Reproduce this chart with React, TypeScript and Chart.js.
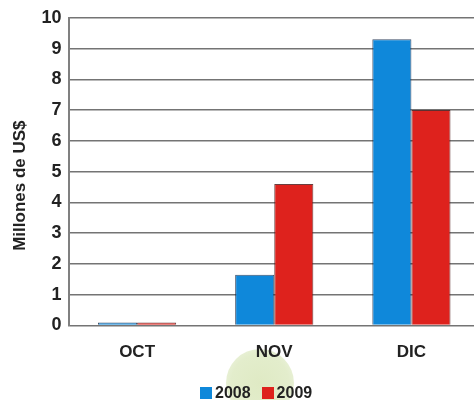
import React, { useEffect, useRef } from "react";
import { Chart, registerables } from "chart.js";

Chart.register(...registerables);

// Monthly values, millions of US$
const months = ["OCT", "NOV", "DIC"];
const series2008 = [0.1, 1.65, 9.3];
const series2009 = [0.1, 4.6, 7.0];
const yTicks = [0, 1, 2, 3, 4, 5, 6, 7, 8, 9, 10];
const seriesLabels = ["2008", "2009"];
const yTitle = "Millones de US$";

const BLUE = "#0f88da";
const RED = "#de221d";
const FONT = "'Liberation Sans', Arial, sans-serif";

// Vertical axis title, sitting a little below the middle of the plot
const yTitlePlugin = {
  id: "yTitle",
  afterDraw(chart: any) {
    const { ctx, chartArea } = chart;
    const cy = (chartArea.top + chartArea.bottom) / 2 + 14;
    ctx.save();
    ctx.translate(20, cy);
    ctx.rotate(-Math.PI / 2);
    ctx.font = `bold 17px ${FONT}`;
    ctx.fillStyle = "#222";
    ctx.textAlign = "center";
    ctx.textBaseline = "middle";
    ctx.fillText(yTitle, 0, 0);
    ctx.restore();
  },
};

export default function App() {
  const canvasRef = useRef<HTMLCanvasElement | null>(null);

  useEffect(() => {
    const canvas = canvasRef.current;
    if (!canvas) return;
    const chart = new Chart(canvas, {
      type: "bar",
      data: {
        labels: months,
        datasets: [
          {
            label: seriesLabels[0],
            data: series2008,
            backgroundColor: BLUE,
            borderColor: "rgba(15,35,65,0.8)",
            borderWidth: 1,
          },
          {
            label: seriesLabels[1],
            data: series2009,
            backgroundColor: RED,
            borderColor: "rgba(70,15,15,0.8)",
            borderWidth: 1,
          },
        ],
      },
      options: {
        animation: false,
        responsive: true,
        maintainAspectRatio: false,
        layout: { padding: { top: 17, left: 0, right: 0, bottom: 0 } },
        datasets: { bar: { categoryPercentage: 0.57, barPercentage: 1 } },
        plugins: {
          legend: { display: false },
          tooltip: { enabled: false },
        },
        scales: {
          x: {
            grid: { display: false, drawTicks: false },
            border: { display: false },
            ticks: {
              padding: 17,
              color: "#222",
              font: { family: FONT, size: 17, weight: "bold" },
            },
            afterFit: (scale: any) => {
              scale.height = 74.5;
            },
          },
          y: {
            min: 0,
            max: 10,
            z: 1,
            afterBuildTicks: (scale: any) => {
              scale.ticks = yTicks.map((v) => ({ value: v }));
            },
            grid: {
              color: "rgba(70,70,70,0.75)",
              lineWidth: 1.6,
              drawTicks: false,
            },
            border: { display: true, color: "#808080", width: 2 },
            ticks: {
              padding: 7,
              color: "#222",
              font: { family: FONT, size: 18, weight: "bold" },
            },
            afterFit: (scale: any) => {
              scale.width = 68.5;
            },
          },
        },
      },
      plugins: [yTitlePlugin],
    });
    return () => chart.destroy();
  }, []);

  const legendItem = (color: string, text: string) => (
    <div style={{ display: "flex", alignItems: "center", gap: 3 }}>
      <span
        style={{
          width: 12,
          height: 12,
          background: color,
          display: "inline-block",
        }}
      />
      <span style={{ font: `bold 16px ${FONT}`, color: "#222", lineHeight: "16px" }}>{text}</span>
    </div>
  );

  return (
    <div
      style={{
        position: "fixed",
        left: 0,
        top: 0,
        width: 474,
        height: 400,
        overflow: "hidden",
        background: "#fff",
      }}
    >
      {/* soft green disc behind the month labels and legend */}
      <div
        style={{
          position: "absolute",
          left: 226,
          top: 349,
          width: 68,
          height: 68,
          borderRadius: "50%",
          background:
            "radial-gradient(circle, #dfeac4 0%, #e3edcc 60%, rgba(232,240,214,0.8) 85%, rgba(255,255,255,0) 100%)",
        }}
      />
      <div style={{ position: "absolute", left: 0, top: 0, width: 480, height: 400 }}>
        <canvas ref={canvasRef} />
      </div>
      <div
        style={{
          position: "absolute",
          left: 200,
          top: 385,
          height: 16,
          display: "flex",
          alignItems: "center",
          gap: 11,
        }}
      >
        {legendItem(BLUE, seriesLabels[0])}
        {legendItem(RED, seriesLabels[1])}
      </div>
    </div>
  );
}
